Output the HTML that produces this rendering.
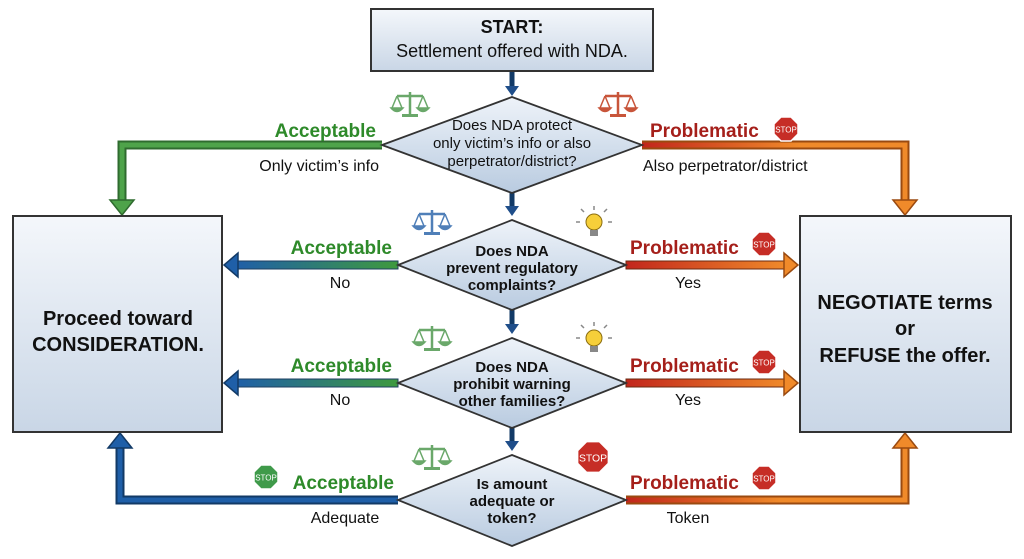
<!DOCTYPE html>
<html><head><meta charset="utf-8"><style>
html,body{margin:0;padding:0;background:#fff;}
svg{display:block;font-family:"Liberation Sans",sans-serif;}
</style></head><body>
<svg width="1024" height="559" viewBox="0 0 1024 559" xmlns="http://www.w3.org/2000/svg">
<defs>
<linearGradient id="box" x1="0" y1="0" x2="0" y2="1"><stop offset="0" stop-color="#f4f7fb"/><stop offset="1" stop-color="#c9d6e6"/></linearGradient>
<linearGradient id="dia" x1="0" y1="0" x2="0" y2="1"><stop offset="0" stop-color="#eef3f9"/><stop offset="1" stop-color="#b9cbe0"/></linearGradient>
<linearGradient id="gb" x1="1" y1="0" x2="0" y2="0"><stop offset="0" stop-color="#3e9a3e"/><stop offset="1" stop-color="#1f5fa8"/></linearGradient>
<linearGradient id="ro" x1="0" y1="0" x2="1" y2="0"><stop offset="0" stop-color="#c2261c"/><stop offset="1" stop-color="#f08a2a"/></linearGradient>
<linearGradient id="ro1" gradientUnits="userSpaceOnUse" x1="642" y1="0" x2="800" y2="0"><stop offset="0" stop-color="#c2261c"/><stop offset="1" stop-color="#f08a2a"/></linearGradient>
<linearGradient id="ro4" gradientUnits="userSpaceOnUse" x1="626" y1="0" x2="780" y2="0"><stop offset="0" stop-color="#c2261c"/><stop offset="1" stop-color="#f08a2a"/></linearGradient>
<g id="scale"><line x1="0" y1="-12" x2="0" y2="10" stroke-width="2.5"/><line x1="-13" y1="-8" x2="13" y2="-8" stroke-width="2.5"/><path d="M-13 -8 L-18 4 M-13 -8 L-8 4 M13 -8 L8 4 M13 -8 L18 4" stroke-width="1.5" fill="none"/><path d="M-19 4 Q-13 11 -7 4 Z M7 4 Q13 11 19 4 Z" stroke-width="1.5"/><rect x="-8" y="10" width="16" height="3" stroke="none"/></g>
<g id="stop"><polygon points="-5,-12 5,-12 12,-5 12,5 5,12 -5,12 -12,5 -12,-5" stroke="#fff" stroke-width="1.5"/><text x="0" y="3.5" font-size="8" fill="#fff" text-anchor="middle">STOP</text></g>
<g id="bulb"><circle cx="0" cy="-2" r="8" fill="#f6cf3a" stroke="#8a6d10" stroke-width="1"/><rect x="-4" y="6" width="8" height="6" fill="#888"/><path d="M-14 -2h-4M14 -2h4M-10 -12l-3 -3M10 -12l3 -3M0 -14v-4" stroke="#888" stroke-width="1.5"/></g>
</defs>

<g fill="none" stroke-linejoin="miter">
<path d="M382 145 H122 V205" stroke="#2f6b2f" stroke-width="9"/>
<path d="M382 145 H122 V205" stroke="#4ea34a" stroke-width="5"/>
<polygon points="110,200 134,200 122,215" fill="#4ea34a" stroke="#2f6b2f" stroke-width="1.5"/>
<path d="M642 145 H905 V205" stroke="#9a4a10" stroke-width="9"/>
<path d="M642 145 H905 V205" stroke="#f08a2a" stroke-width="5"/>
<path d="M642 145 H800" stroke="url(#ro1)" stroke-width="5"/>
<polygon points="893,200 917,200 905,215" fill="#f08a2a" stroke="#9a4a10" stroke-width="1.5"/>
<rect x="236" y="261" width="162" height="8" fill="url(#gb)" stroke="#1e3f60" stroke-width="1"/>
<polygon points="238,253 238,277 224,265" fill="#1f5fa8" stroke="#123a66" stroke-width="1.5"/>
<rect x="626" y="261" width="160" height="8" fill="url(#ro)" stroke="#6a2a10" stroke-width="1"/>
<polygon points="784,253 784,277 798,265" fill="#f08a2a" stroke="#9a4a10" stroke-width="1.5"/>
<rect x="236" y="379" width="162" height="8" fill="url(#gb)" stroke="#1e3f60" stroke-width="1"/>
<polygon points="238,371 238,395 224,383" fill="#1f5fa8" stroke="#123a66" stroke-width="1.5"/>
<rect x="626" y="379" width="160" height="8" fill="url(#ro)" stroke="#6a2a10" stroke-width="1"/>
<polygon points="784,371 784,395 798,383" fill="#f08a2a" stroke="#9a4a10" stroke-width="1.5"/>
<path d="M398 500 H120 V445" stroke="#123a66" stroke-width="9"/>
<path d="M398 500 H120 V445" stroke="#1f5fa8" stroke-width="5"/>
<polygon points="108,448 132,448 120,433" fill="#1f5fa8" stroke="#123a66" stroke-width="1.5"/>
<path d="M626 500 H905 V445" stroke="#9a4a10" stroke-width="9"/>
<path d="M626 500 H905 V445" stroke="#f08a2a" stroke-width="5"/>
<path d="M626 500 H780" stroke="url(#ro4)" stroke-width="5"/>
<polygon points="893,448 917,448 905,433" fill="#f08a2a" stroke="#9a4a10" stroke-width="1.5"/>
<g stroke="#123a66" stroke-width="5"><path d="M512 72V90M512 190V210M512 310V328M512 428V445"/></g>
</g>
<g fill="#1f4e8a"><polygon points="505,86 519,86 512,96"/><polygon points="505,206 519,206 512,216"/><polygon points="505,324 519,324 512,334"/><polygon points="505,441 519,441 512,451"/></g>

<rect x="371" y="9" width="282" height="62" fill="url(#box)" stroke="#333" stroke-width="2"/>
<text x="512" y="33" font-size="18" font-weight="bold" text-anchor="middle" fill="#111">START:</text>
<text x="512" y="57" font-size="18" text-anchor="middle" fill="#111">Settlement offered with NDA.</text>
<rect x="13" y="216" width="209" height="216" fill="url(#box)" stroke="#333" stroke-width="2"/>
<text x="118" y="325" font-size="20" font-weight="bold" text-anchor="middle" fill="#111">Proceed toward</text>
<text x="118" y="351" font-size="20" font-weight="bold" text-anchor="middle" fill="#111">CONSIDERATION.</text>
<rect x="800" y="216" width="211" height="216" fill="url(#box)" stroke="#333" stroke-width="2"/>
<text x="905" y="309" font-size="20" font-weight="bold" text-anchor="middle" fill="#111">NEGOTIATE terms</text>
<text x="905" y="335" font-size="20" font-weight="bold" text-anchor="middle" fill="#111">or</text>
<text x="905" y="362" font-size="20" font-weight="bold" text-anchor="middle" fill="#111">REFUSE the offer.</text>

<g stroke="#333" stroke-width="1.8" fill="url(#dia)">
<polygon points="512,97 642,145 512,193 382,145"/>
<polygon points="512,220 626,265 512,310 398,265"/>
<polygon points="512,338 626,383 512,428 398,383"/>
<polygon points="512,455 626,500 512,546 398,500"/>
</g>
<g font-size="15" text-anchor="middle" fill="#111">
<text x="512" y="130">Does NDA protect</text>
<text x="512" y="148">only victim’s info or also</text>
<text x="512" y="166">perpetrator/district?</text>
<g font-weight="bold">
<text x="512" y="256">Does NDA</text><text x="512" y="273">prevent regulatory</text><text x="512" y="290">complaints?</text>
<text x="512" y="372">Does NDA</text><text x="512" y="389">prohibit warning</text><text x="512" y="406">other families?</text>
<text x="512" y="489">Is amount</text><text x="512" y="506">adequate or</text><text x="512" y="523">token?</text>
</g></g>

<g font-size="19" font-weight="bold">
<text x="376" y="137" text-anchor="end" fill="#2e8a2a">Acceptable</text>
<text x="392" y="254" text-anchor="end" fill="#2e8a2a">Acceptable</text>
<text x="392" y="372" text-anchor="end" fill="#2e8a2a">Acceptable</text>
<text x="394" y="489" text-anchor="end" fill="#2e8a2a">Acceptable</text>
<text x="650" y="137" fill="#a51f1a">Problematic</text>
<text x="630" y="254" fill="#a51f1a">Problematic</text>
<text x="630" y="372" fill="#a51f1a">Problematic</text>
<text x="630" y="489" fill="#a51f1a">Problematic</text>
</g>
<g font-size="16" fill="#111">
<text x="379" y="171" text-anchor="end">Only victim’s info</text>
<text x="643" y="171">Also perpetrator/district</text>
<text x="340" y="288" text-anchor="middle">No</text>
<text x="688" y="288" text-anchor="middle">Yes</text>
<text x="340" y="405" text-anchor="middle">No</text>
<text x="688" y="405" text-anchor="middle">Yes</text>
<text x="345" y="523" text-anchor="middle">Adequate</text>
<text x="688" y="523" text-anchor="middle">Token</text>
</g>

<use href="#scale" x="410" y="104" fill="#6aa86a" stroke="#6aa86a"/>
<use href="#scale" x="618" y="104" fill="#c8553a" stroke="#c8553a"/>
<use href="#scale" x="432" y="222" fill="#4f7fb8" stroke="#4f7fb8"/>
<use href="#scale" x="432" y="338" fill="#6aa86a" stroke="#6aa86a"/>
<use href="#scale" x="432" y="457" fill="#6aa86a" stroke="#6aa86a"/>
<use href="#bulb" x="594" y="224"/>
<use href="#bulb" x="594" y="340"/>
<use href="#stop" x="786" y="129" fill="#c62d26"/>
<use href="#stop" x="764" y="244" fill="#c62d26"/>
<use href="#stop" x="764" y="362" fill="#c62d26"/>
<use href="#stop" x="764" y="478" fill="#c62d26"/>
<use href="#stop" x="266" y="477" fill="#3f9a4a"/>
<g transform="translate(593,457) scale(1.3)"><use href="#stop" fill="#c62d26"/></g>
</svg>
</body></html>
